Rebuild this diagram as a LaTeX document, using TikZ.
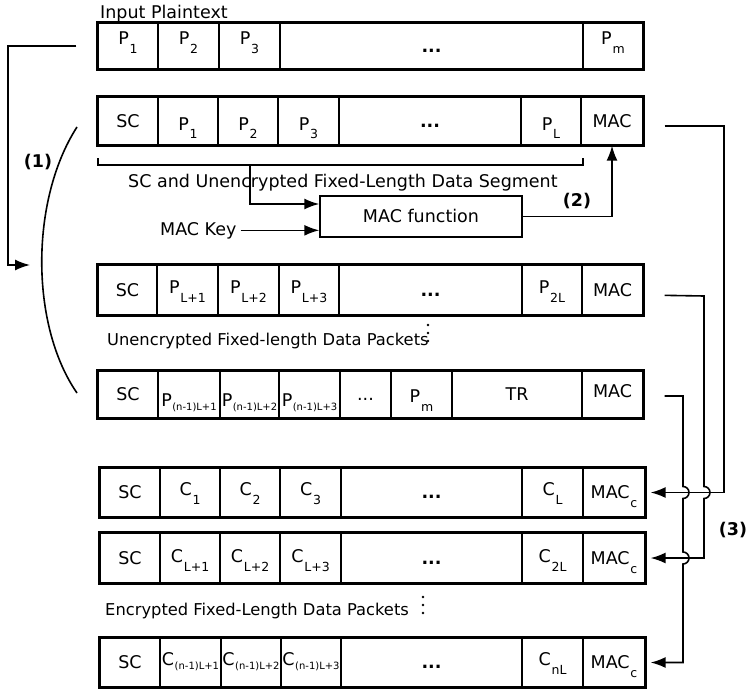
\documentclass[tikz,border=0pt]{standalone}
\usepackage{fontspec}
\setmainfont{DejaVu Sans}
\usetikzlibrary{arrows.meta}
\newcommand\Sb[1]{\kern0.8pt\raisebox{-9pt}{\fontsize{12.5}{12.5}\selectfont #1}}
\newcommand\Sl[1]{\kern0.5pt\raisebox{-4pt}{\fontsize{10}{10}\selectfont #1}}
\newcommand\mkcell[7]{\node[cellbox,#6,minimum width={#3-#2},minimum height=#5] (#1) at ({(#2+#3)/2},#4) {#7};}
\begin{document}
\begin{tikzpicture}[x=1pt,y=-1pt,
  txt/.style={font=\fontsize{17.5}{20}\selectfont, inner sep=0pt},
  captxt/.style={font=\fontsize{16.3}{20}\selectfont, inner sep=0pt},
  cellbox/.style={draw, line width=1.3pt, inner sep=0pt, font=\fontsize{17.5}{20}\selectfont},
  lbl/.style={text height=12.5pt, text depth=0pt},
  s1/.style={text height=5pt, text depth=7pt},
  s2/.style={text height=25pt, text depth=7pt},
  s3/.style={text height=13pt, text depth=7pt},
  s4/.style={text height=31pt, text depth=7pt},
  s4m/.style={text height=22pt, text depth=7pt},
  s5/.style={text height=12pt, text depth=7pt},
  s6/.style={text height=15pt, text depth=7pt},
  s7/.style={text height=12pt, text depth=7pt},
  rowline/.style={draw, line width=2.2pt},
  arr/.style={line width=1.6pt, -{Latex[length=15pt,width=11pt]}},
  ln/.style={line width=1.6pt}]
\useasboundingbox (0,0) rectangle (746,690);
% Row 1
\node[txt, anchor=base west] (t1) at (100,19) {Input Plaintext};
\mkcell{r1a}{98}{158}{46}{46}{s1}{P\Sb{1}}
\mkcell{r1b}{158}{219}{46}{46}{s1}{P\Sb{2}}
\mkcell{r1c}{219}{280}{46}{46}{s1}{P\Sb{3}}
\mkcell{r1d}{280}{583}{46}{46}{lbl}{\textbf{...}}
\mkcell{r1e}{583}{643}{46}{46}{s1}{P\Sb{m}}
\draw[rowline] (r1a.north west) rectangle (r1e.south east);
% Row 2
\mkcell{r2a}{98}{158}{121}{48}{lbl}{SC}
\mkcell{r2b}{158}{218}{121}{48}{s2}{P\Sb{1}}
\mkcell{r2c}{218}{278}{121}{48}{s2}{P\Sb{2}}
\mkcell{r2d}{278}{339}{121}{48}{s2}{P\Sb{3}}
\mkcell{r2e}{339}{521}{121}{48}{lbl}{\textbf{...}}
\mkcell{r2f}{521}{581}{121}{48}{s2}{P\Sb{L}}
\mkcell{r2g}{581}{643}{121}{48}{lbl}{MAC}
\draw[rowline] (r2a.north west) rectangle (r2g.south east);
% bracket and MAC function
\draw[ln] (98,158) -- (98,165) -- (583,165) -- (583,158);
\coordinate (bk) at (250,165);
\node[txt, anchor=base west] (seg) at (128,187) {SC and Unencrypted Fixed-Length Data Segment};
\node[draw, line width=1.5pt, minimum width=202, minimum height=41, inner sep=0pt,
  font=\fontsize{17.5}{20}\selectfont, text height=12.5pt, text depth=0pt] (mf) at (421,216.5) {MAC function};
\node[txt, anchor=base west, inner sep=4pt] (mk) at (156,235) {MAC Key};
\draw[arr] (bk) |- ([yshift=12.5pt]mf.west);
\draw[arr] (mk.east) -- (mk.east -| mf.west);
\draw[arr] (mf.east) -| (r2g.south);
\node[txt, font=\fontsize{17.5}{20}\selectfont\bfseries] (l2) at (577,201) {(2)};
% Row 3
\mkcell{r3a}{98}{157}{290}{50}{lbl}{SC}
\mkcell{r3b}{157}{218}{290}{50}{s3}{P\Sb{L+1}}
\mkcell{r3c}{218}{279}{290}{50}{s3}{P\Sb{L+2}}
\mkcell{r3d}{279}{339}{290}{50}{s3}{P\Sb{L+3}}
\mkcell{r3e}{339}{522}{290}{50}{lbl}{\textbf{...}}
\mkcell{r3f}{522}{582}{290}{50}{s3}{P\Sb{2L}}
\mkcell{r3g}{582}{643}{290}{50}{lbl}{MAC}
\draw[rowline] (r3a.north west) rectangle (r3g.south east);
\node[captxt, anchor=base west] (t3) at (107,345) {Unencrypted Fixed-length Data Packets};
\fill (428,325) circle (1.4pt) (428,333) circle (1.4pt) (428,341) circle (1.4pt);
% Row 4
\mkcell{r4a}{98}{158}{394.5}{47}{lbl}{SC}
\mkcell{r4b}{158}{220}{394.5}{47}{s4}{P\Sl{(n-1)L+1}}
\mkcell{r4c}{220}{279}{394.5}{47}{s4}{P\Sl{(n-1)L+2}}
\mkcell{r4d}{279}{340}{394.5}{47}{s4}{P\Sl{(n-1)L+3}}
\mkcell{r4e}{340}{391}{394.5}{47}{lbl}{...}
\mkcell{r4f}{391}{452}{394.5}{47}{s4m}{P\Sb{m}}
\mkcell{r4g}{452}{582}{394.5}{47}{lbl}{TR}
\mkcell{r4h}{582}{643}{394.5}{47}{text height=5pt, text depth=0pt}{MAC}
\draw[rowline] (r4a.north west) rectangle (r4h.south east);
% (1)
\draw[ln] (77,127) .. controls (30,200) and (30,325) .. (77,393);
\node[txt, font=\fontsize{17.5}{20}\selectfont\bfseries] (l1) at (38,162) {(1)};
\coordinate (p1e) at (30,265);
\draw[arr, shorten <=21pt] (r1a.west) -- (8,46) |- (p1e);
% Row 5
\mkcell{r5a}{100}{160}{492.5}{49}{lbl}{SC}
\mkcell{r5b}{160}{220}{492.5}{49}{s5}{C\Sb{1}}
\mkcell{r5c}{220}{280}{492.5}{49}{s5}{C\Sb{2}}
\mkcell{r5d}{280}{341}{492.5}{49}{s5}{C\Sb{3}}
\mkcell{r5e}{341}{522}{492.5}{49}{lbl}{\textbf{...}}
\mkcell{r5f}{522}{583}{492.5}{49}{s5}{C\Sb{L}}
\mkcell{r5g}{583}{645}{492.5}{49}{lbl}{MAC\Sb{c}}
\draw[rowline] (r5a.north west) rectangle (r5g.south east);
% Row 6
\mkcell{r6a}{100}{160}{558}{50}{lbl}{SC}
\mkcell{r6b}{160}{220}{558}{50}{s6}{C\Sb{L+1}}
\mkcell{r6c}{220}{280}{558}{50}{s6}{C\Sb{L+2}}
\mkcell{r6d}{280}{341}{558}{50}{s6}{C\Sb{L+3}}
\mkcell{r6e}{341}{522}{558}{50}{lbl}{\textbf{...}}
\mkcell{r6f}{522}{583}{558}{50}{s6}{C\Sb{2L}}
\mkcell{r6g}{583}{645}{558}{50}{lbl}{MAC\Sb{c}}
\draw[rowline] (r6a.north west) rectangle (r6g.south east);
\node[captxt, anchor=base west] (t6) at (105,615) {Encrypted Fixed-Length Data Packets};
\fill (423,597) circle (1.4pt) (423,605) circle (1.4pt) (423,613) circle (1.4pt);
% Row 7
\mkcell{r7a}{100}{160}{662.5}{49}{lbl}{SC}
\mkcell{r7b}{160}{221}{662.5}{49}{s7}{C\Sl{(n-1)L+1}}
\mkcell{r7c}{221}{281}{662.5}{49}{s7}{C\Sl{(n-1)L+2}}
\mkcell{r7d}{281}{341}{662.5}{49}{s7}{C\Sl{(n-1)L+3}}
\mkcell{r7e}{341}{522}{662.5}{49}{lbl}{\textbf{...}}
\mkcell{r7f}{522}{583}{662.5}{49}{s7}{C\Sb{nL}}
\mkcell{r7g}{583}{645}{662.5}{49}{lbl}{MAC\Sb{c}}
\draw[rowline] (r7a.north west) rectangle (r7g.south east);
% (3) connectors
\draw[arr, shorten <=21pt] ([yshift=-5pt]r2g.east) -- (724,126) |- ([xshift=5pt]r5g.east);
\draw[arr, shorten <=21pt] ([yshift=-5pt]r3g.east) -- (704,296) -- (704,486.5)
  arc[start angle=90, end angle=-90, radius=6pt] -- (704,558) -- ([xshift=5pt]r6g.east);
\draw[arr, shorten <=21pt] ([yshift=-1.5pt]r4h.east) -- (683,396) -- (683,486.5)
  arc[start angle=90, end angle=-90, radius=6pt] -- (683,552)
  arc[start angle=90, end angle=-90, radius=6pt] -- (683,662.5) -- ([xshift=5pt]r7g.east);
\node[txt, font=\fontsize{17.5}{20}\selectfont\bfseries] (l3) at (733,530) {(3)};
\end{tikzpicture}
\end{document}
